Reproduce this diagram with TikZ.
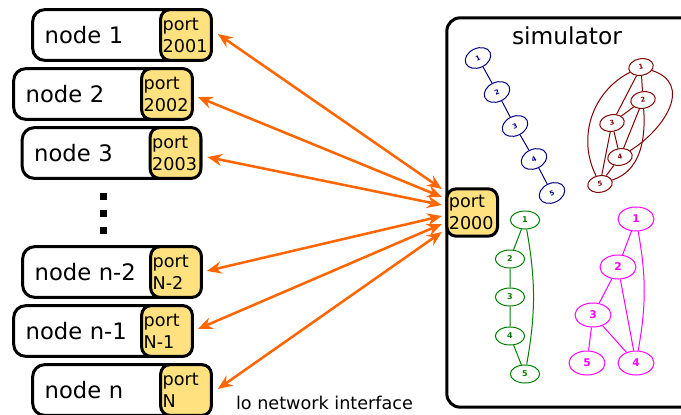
\documentclass[tikz,border=0pt]{standalone}
\usepackage{fontspec}
\setmainfont{DejaVu Sans}
\usetikzlibrary{positioning, arrows.meta, calc, shapes.geometric}
\definecolor{portYellow}{HTML}{FFE27F}
\definecolor{linkOrange}{HTML}{FF6600}
\definecolor{simBlue}{HTML}{000080}
\definecolor{simRed}{HTML}{800000}
\definecolor{simGreen}{HTML}{008000}
\definecolor{simPink}{HTML}{FF00FF}

\begin{document}
\begin{tikzpicture}[x=0.75pt, y=-0.75pt, every node/.style={align=center}]
    \tikzset{hostbox/.style={draw,line width=2.25pt,fill=white,rounded corners=9pt,minimum height=38pt,text width=116pt,inner xsep=9pt,align=left,font=\fontsize{17}{20}\selectfont},
      portbox/.style={draw,line width=2.25pt,fill=portYellow,rounded corners=7pt,minimum height=38pt,text width=35pt,inner xsep=1.5pt,inner ysep=2pt,align=left,font=\fontsize{13.2}{16.5}\selectfont},
      simbox/.style={draw,line width=2.25pt,rounded corners=10pt,minimum width=190pt,minimum height=292pt},
      link/.style={{Stealth[length=11pt,width=9pt]}-{Stealth[length=11pt,width=9pt]},line width=1.9pt,draw=linkOrange},
      gnode/.style={ellipse,inner sep=0pt,line width=0.75pt,font=\bfseries},
      bnode/.style={gnode,draw=simBlue,text=simBlue,minimum width=20pt,minimum height=14.5pt,rotate=25,font=\fontsize{5}{5}\selectfont\bfseries},
      rnode/.style={gnode,draw=simRed,text=simRed,minimum width=18.5pt,minimum height=12.5pt,rotate=10,font=\fontsize{5}{5}\selectfont\bfseries},
      grnode/.style={gnode,draw=simGreen,text=simGreen,minimum width=22pt,minimum height=13.5pt,font=\fontsize{6}{6}\selectfont\bfseries},
      mnode/.style={gnode,draw=simPink,text=simPink,minimum width=27pt,minimum height=18pt,font=\fontsize{8}{8}\selectfont\bfseries}}
    \useasboundingbox (0,0) rectangle (681,414);
    \clip (0,0) rectangle (681,414);
    % hosts and their ports
    \node[hostbox] (h1) at (122,35) {node 1};
    \node[hostbox] (h2) at (103,94) {node 2};
    \node[hostbox] (h3) at (111.5,153) {node 3};
    \node[hostbox] (hn2) at (112,272) {node n-2};
    \node[hostbox] (hn1) at (103,331) {node n-1};
    \node[hostbox] (hn) at (122,390) {node n};
    \node[portbox,anchor=east] (p1) at (h1.east) {port\\2001};
    \node[portbox,anchor=east] (p2) at (h2.east) {port\\2002};
    \node[portbox,anchor=east] (p3) at (h3.east) {port\\2003};
    \node[portbox,anchor=east] (pn2) at (hn2.east) {port\\N-2};
    \node[portbox,anchor=east] (pn1) at (hn1.east) {port\\N-1};
    \node[portbox,anchor=east] (pn) at (hn.east) {port\\N};
    \foreach \y in {196,213,230} \fill (100,\y-3.5) rectangle ++(7,7);
    % simulator
    \node[simbox] (sim) at (573.5,212.5) {};
    \node[font=\fontsize{17.5}{20}\selectfont] (simtitle) at (567,36) {simulator};
    \node[portbox,anchor=west,minimum height=35.5pt] (p2000) at (sim.west) {port\\2000};
    \node[font=\fontsize{13.2}{15}\selectfont] (lo) at (324.5,403) {lo network interface};
    % links
    \draw[link] ($(p2000.west)+(-3.5,-23.5)$) -- ($(p1.east)+(5,-1)$);
    \draw[link] ($(p2000.west)+(-3.5,-15.5)$) -- ($(p2.east)+(4,3)$);
    \draw[link] ($(p2000.west)+(-3.5,-7.5)$) -- ($(p3.east)+(5,4)$);
    \draw[link] ($(p2000.west)+(-3.5,3.5)$) -- ($(pn2.east)+(4,-1)$);
    \draw[link] ($(p2000.west)+(-3.5,11.5)$) -- ($(pn1.east)+(4,-2)$);
    \draw[link] ($(p2000.west)+(-3.5,19.5)$) -- ($(pn.east)+(5,-1)$);
    % blue chain
    \node[bnode] (b1) at (478,58) {1};
    \node[bnode] (b2) at (497,92) {2};
    \node[bnode] (b3) at (515,126) {3};
    \node[bnode] (b4) at (534,159) {4};
    \node[bnode] (b5) at (552,193) {5};
    \draw[simBlue,line width=0.75pt] (b1) -- (b2) -- (b3) -- (b4) -- (b5);
    % red complete graph
    \node[rnode] (r1) at (641,67) {1};
    \node[rnode] (r2) at (643,100) {2};
    \node[rnode] (r3) at (612,123) {3};
    \node[rnode] (r4) at (620,157) {4};
    \node[rnode] (r5) at (600,184) {5};
    \draw[simRed,line width=0.75pt] (r1) -- (r2) (r1) -- (r3) (r2) -- (r3) (r2) -- (r4) (r3) -- (r4) (r3) -- (r5) (r4) -- (r5);
    \draw[simRed,line width=0.75pt] (r1) to[bend right=45] (r5);
    \draw[simRed,line width=0.75pt] (r1) to[out=-20,in=30,looseness=1.3] (r4);
    \draw[simRed,line width=0.75pt] (r2) to[out=-88,in=15] (r5);
    % green ring
    \node[grnode] (g1) at (525,220) {1};
    \node[grnode] (g2) at (510,259) {2};
    \node[grnode] (g3) at (510,297) {3};
    \node[grnode] (g4) at (510,336) {4};
    \node[grnode] (g5) at (525,374) {5};
    \draw[simGreen,line width=0.75pt] (g1) -- (g2) -- (g3) -- (g4) -- (g5);
    \draw[simGreen,line width=0.75pt] (g1) to[bend left=10] (g5);
    % magenta graph
    \node[mnode] (m1) at (636,219) {1};
    \node[mnode] (m2) at (618,267) {2};
    \node[mnode] (m3) at (593,315) {3};
    \node[mnode] (m4) at (636,363) {4};
    \node[mnode] (m5) at (587,363) {5};
    \draw[simPink,line width=0.75pt] (m1) -- (m2) -- (m3) -- (m5) (m2) -- (m4) (m3) -- (m4);
    \draw[simPink,line width=0.75pt] (m1) to[bend left=10] (m4);
\end{tikzpicture}
\end{document}
